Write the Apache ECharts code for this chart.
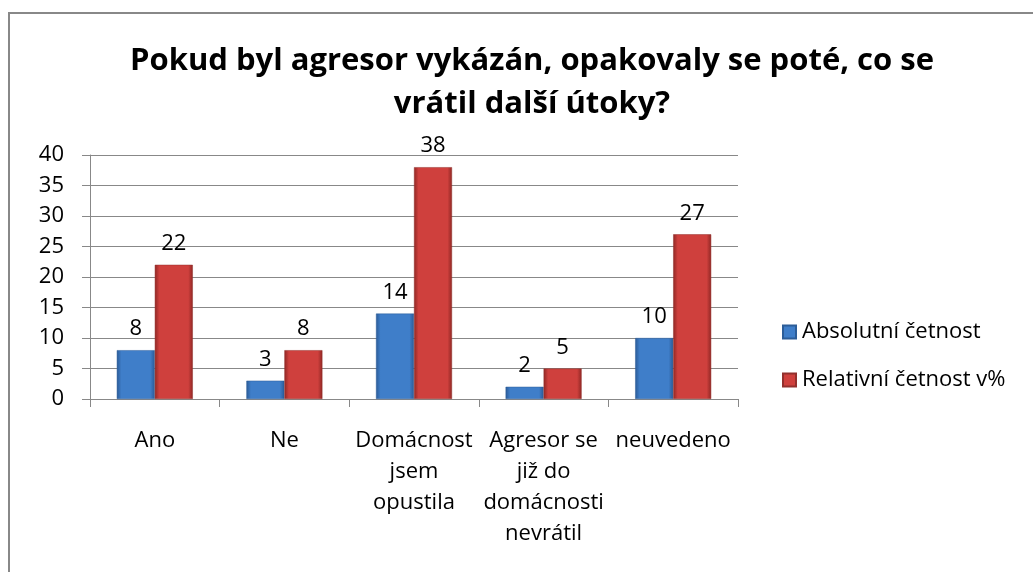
<!DOCTYPE html>
<html>
<head>
    <meta charset="utf-8">
    <script src="https://cdn.jsdelivr.net/npm/echarts@6/dist/echarts.min.js"></script>
    <style>
        html, body { margin: 0; padding: 0; background: #fff; }
        #main { width: 1033px; height: 572px; }
    </style>
</head>
<body>
<div id="main"></div>
<script type="text/javascript">
    var categories = ['Ano', 'Ne', 'Domácnost\njsem\nopustila', 'Agresor se\njiž do\ndomácnosti\nnevrátil', 'neuvedeno'];
    var absolutni = [8, 3, 14, 2, 10];
    var relativni = [22, 8, 38, 5, 27];
    var yTicks = [0, 5, 10, 15, 20, 25, 30, 35, 40];

    var font = '"Open Sans", Lato, sans-serif';

    // vodorovny prechod - tmave okraje, svetly stred (imitace 3D sloupce)
    function barFill(edge, mid) {
        return new echarts.graphic.LinearGradient(0, 0, 1, 0, [
            {offset: 0, color: edge},
            {offset: 0.12, color: mid},
            {offset: 0.88, color: mid},
            {offset: 1, color: edge}
        ]);
    }

    var myChart = echarts.init(document.getElementById('main'));
    var option = {
        backgroundColor: '#fff',
        animation: false,
        title: {
            text: 'Pokud byl agresor vykázán, opakovaly se poté, co se\nvrátil další útoky?',
            left: 527,
            top: 35,
            textAlign: 'center',
            textStyle: {
                fontFamily: font,
                fontWeight: 'bold',
                fontSize: 31,
                lineHeight: 43,
                color: '#000'
            }
        },
        legend: {
            orient: 'vertical',
            left: 777,
            top: 316,
            itemWidth: 13,
            itemHeight: 13,
            itemGap: 26,
            icon: 'rect',
            textStyle: {fontFamily: font, fontSize: 22, color: '#000', padding: [0, 0, 0, 1]},
            data: ['Absolutní četnost', 'Relativní četnost v%']
        },
        grid: {left: 90, right: 295, top: 155, bottom: 173},
        xAxis: {
            type: 'category',
            data: categories,
            axisLine: {lineStyle: {color: '#888', width: 1}},
            axisTick: {show: true, length: 8, lineStyle: {color: '#888'}},
            axisLabel: {
                fontFamily: font, fontSize: 22, color: '#000',
                lineHeight: 31, margin: 26, interval: 0
            }
        },
        yAxis: {
            type: 'value',
            min: yTicks[0],
            max: yTicks[yTicks.length - 1],
            interval: 5,
            axisLine: {show: true, lineStyle: {color: '#888'}},
            axisTick: {show: true, length: 8, lineStyle: {color: '#888'}},
            splitLine: {lineStyle: {color: '#888', width: 1}},
            axisLabel: {fontFamily: font, fontSize: 22, color: '#000', margin: 26}
        },
        series: [
            {
                name: 'Absolutní četnost',
                type: 'bar',
                data: absolutni,
                barWidth: 38,
                barGap: '0%',
                itemStyle: {color: barFill('#2a5a96', '#3f7ec9'), borderColor: '#2c5d98', borderWidth: 0.5},
                label: {show: true, position: 'top', distance: 10, fontFamily: font, fontSize: 22, color: '#000'}
            },
            {
                name: 'Relativní četnost v%',
                type: 'bar',
                data: relativni,
                barWidth: 38,
                itemStyle: {color: barFill('#8f2724', '#cf403d'), borderColor: '#92302d', borderWidth: 0.5},
                label: {show: true, position: 'top', distance: 10, fontFamily: font, fontSize: 22, color: '#000'}
            }
        ],
        graphic: [
            {
                type: 'rect',
                shape: {x: 9, y: 13, width: 1100, height: 700},
                style: {fill: null, stroke: '#888', lineWidth: 2},
                silent: true
            }
        ]
    };
    myChart.setOption(option);
</script>
</body>
</html>
